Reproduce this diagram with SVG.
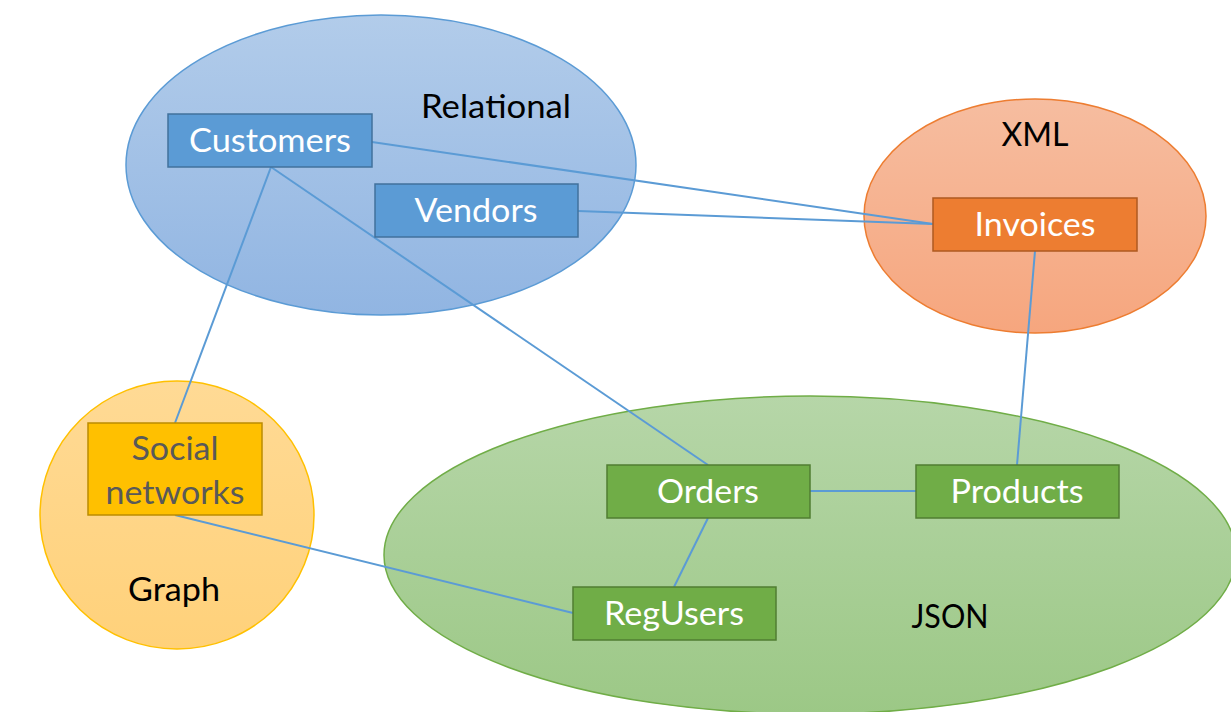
<svg xmlns="http://www.w3.org/2000/svg" width="1231" height="712" viewBox="0 0 1231 712">
  <defs>
    <linearGradient id="gBlue" x1="0" y1="0" x2="0" y2="1">
      <stop offset="0" stop-color="#B2CCEA"/>
      <stop offset="1" stop-color="#91B5E2"/>
    </linearGradient>
    <linearGradient id="gOrange" x1="0" y1="0" x2="0" y2="1">
      <stop offset="0" stop-color="#F6BDA0"/>
      <stop offset="1" stop-color="#F6A67E"/>
    </linearGradient>
    <linearGradient id="gYellow" x1="0" y1="0" x2="0" y2="1">
      <stop offset="0" stop-color="#FFDA95"/>
      <stop offset="1" stop-color="#FFD17A"/>
    </linearGradient>
    <linearGradient id="gGreen" x1="0" y1="0" x2="0" y2="1">
      <stop offset="0" stop-color="#B6D6A8"/>
      <stop offset="1" stop-color="#9CC886"/>
    </linearGradient>
    <style>
      text { font-family: Lato, "Liberation Sans", sans-serif; font-size: 33px; text-anchor: middle; }
      .lbl { fill: #000000; }
      .box-txt { fill: #FFFFFF; }
      .box-txt-dark { fill: #595959; }
      .conn line { stroke: #5B9BD5; stroke-width: 2; fill: none; }
      .blue rect { fill: #5B9BD5; stroke: #41719C; stroke-width: 1.5; }
      .orange rect { fill: #ED7D31; stroke: #AE5A21; stroke-width: 1.5; }
      .yellow rect { fill: #FFC000; stroke: #BC8C00; stroke-width: 1.5; }
      .green rect { fill: #70AD47; stroke: #507E32; stroke-width: 1.5; }
    </style>
  </defs>

  <rect width="1231" height="712" fill="#FFFFFF"/>

  <!-- Data model regions -->
  <g id="region-relational">
    <ellipse cx="381" cy="165" rx="255" ry="150" fill="url(#gBlue)" stroke="#5B9BD5" stroke-width="1.5"/>
  </g>
  <g id="region-xml">
    <ellipse cx="1035" cy="216" rx="171" ry="117" fill="url(#gOrange)" stroke="#ED7D31" stroke-width="1.5"/>
  </g>
  <g id="region-graph">
    <ellipse cx="177" cy="515" rx="137" ry="134" fill="url(#gYellow)" stroke="#FFC000" stroke-width="1.5"/>
  </g>
  <g id="region-json">
    <ellipse cx="810" cy="555" rx="426" ry="159" fill="url(#gGreen)" stroke="#70AD47" stroke-width="1.5"/>
  </g>

  <!-- Region labels -->
  <g id="region-labels">
    <text class="lbl" x="496" y="118" textLength="150" lengthAdjust="spacingAndGlyphs">Relational</text>
    <text class="lbl" x="1035" y="146" textLength="67" lengthAdjust="spacingAndGlyphs">XML</text>
    <text class="lbl" x="174" y="601" textLength="92" lengthAdjust="spacingAndGlyphs">Graph</text>
    <text class="lbl" x="950" y="628" textLength="77" lengthAdjust="spacingAndGlyphs">JSON</text>
  </g>

  <!-- Connectors -->
  <g id="connectors" class="conn">
    <line x1="372" y1="142" x2="933" y2="224"/>
    <line x1="578" y1="211" x2="933" y2="224"/>
    <line x1="271" y1="167" x2="175" y2="423"/>
    <line x1="271" y1="167" x2="708" y2="465"/>
    <line x1="1035" y1="251" x2="1017" y2="465"/>
    <line x1="810" y1="491" x2="916" y2="491"/>
    <line x1="708" y1="518" x2="674" y2="587"/>
    <line x1="175" y1="515" x2="573" y2="613"/>
  </g>

  <!-- Entity nodes -->
  <g id="customers" class="blue">
    <rect x="168" y="114" width="204" height="53"/>
    <text class="box-txt" x="270" y="152" textLength="162" lengthAdjust="spacingAndGlyphs">Customers</text>
  </g>
  <g id="vendors" class="blue">
    <rect x="375" y="184" width="203" height="53"/>
    <text class="box-txt" x="476" y="222" textLength="123" lengthAdjust="spacingAndGlyphs">Vendors</text>
  </g>
  <g id="invoices" class="orange">
    <rect x="933" y="198" width="204" height="53"/>
    <text class="box-txt" x="1035" y="236" textLength="121" lengthAdjust="spacingAndGlyphs">Invoices</text>
  </g>
  <g id="social-networks" class="yellow">
    <rect x="88" y="423" width="174" height="92"/>
    <text class="box-txt-dark" x="175" y="460" textLength="87" lengthAdjust="spacingAndGlyphs">Social</text>
    <text class="box-txt-dark" x="175" y="504" textLength="139" lengthAdjust="spacingAndGlyphs">networks</text>
  </g>
  <g id="orders" class="green">
    <rect x="607" y="465" width="203" height="53"/>
    <text class="box-txt" x="708" y="503" textLength="102" lengthAdjust="spacingAndGlyphs">Orders</text>
  </g>
  <g id="products" class="green">
    <rect x="916" y="465" width="203" height="53"/>
    <text class="box-txt" x="1017" y="503" textLength="133" lengthAdjust="spacingAndGlyphs">Products</text>
  </g>
  <g id="regusers" class="green">
    <rect x="573" y="587" width="203" height="53"/>
    <text class="box-txt" x="674" y="625" textLength="140" lengthAdjust="spacingAndGlyphs">RegUsers</text>
  </g>
</svg>
